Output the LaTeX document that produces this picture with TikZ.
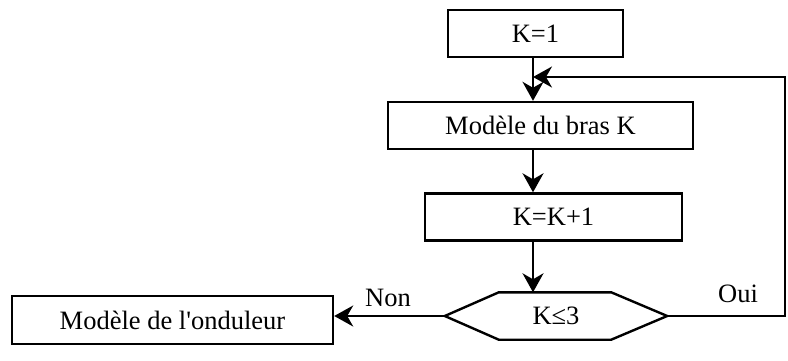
\documentclass[tikz,border=0pt]{standalone}
\usepackage{fontspec}
\setmainfont{Liberation Serif}
\usetikzlibrary{arrows.meta}

\tikzset{
  stepbox/.style={draw, line width=2.4pt, minimum height=47pt, inner sep=0pt,
                  font=\fontsize{26.5}{30}\selectfont},
  flow/.style={line width=2.2pt,
               -{Stealth[length=19pt, width=21pt, inset=6pt]}},
  lbl/.style={font=\fontsize{26.5}{30}\selectfont},
}

\begin{document}
\begin{tikzpicture}[x=1pt, y=-1pt]
  \useasboundingbox (0,0) rectangle (788,361);

  % process boxes
  \node[stepbox, minimum width=175pt] (k1)   at (535.5,33.5) {K=1};
  \node[stepbox, minimum width=305pt] (bras) at (540.5,125.5) {Modèle du bras K};
  \node[stepbox, minimum width=257pt] (kinc) at (553.5,217) {K=K+1};
  \node[stepbox, minimum width=321pt, minimum height=48pt] (ond) at (172.5,320)
       {Modèle de l\textquotesingle onduleur};

  % decision hexagon (text node + outline drawn on its anchors)
  \node[lbl, minimum width=222pt, minimum height=47pt, inner sep=0pt] (test) at (556,316) {K≤3};
  \draw[line width=2.4pt, line join=miter]
    (test.west) -- ([xshift=54pt]test.north west) -- ([xshift=-56pt]test.north east)
    -- (test.east) -- ([xshift=-56pt]test.south east) -- ([xshift=54pt]test.south west)
    -- cycle;

  % main stem position and loop-back corner
  \coordinate (stem) at (533,0);
  \coordinate (rx)   at (785,77);
  \coordinate (fb)   at (533,77);

  % downward flow
  \draw[flow] (k1.south -| stem)   -- (bras.north -| stem);
  \draw[flow] (bras.south -| stem) -- (kinc.north -| stem);
  \draw[flow] (kinc.south -| stem) -- (test.north -| stem);

  % yes branch loops back above the arm model
  \draw[flow] (test.east) -| (rx) -- (fb);

  % no branch leads to the inverter model
  \draw[flow] (test.west) -- (test.west -| ond.east);

  % branch labels
  \node[lbl] (non) at (388,298) {Non};
  \node[lbl] (oui) at (738,294) {Oui};
\end{tikzpicture}
\end{document}
